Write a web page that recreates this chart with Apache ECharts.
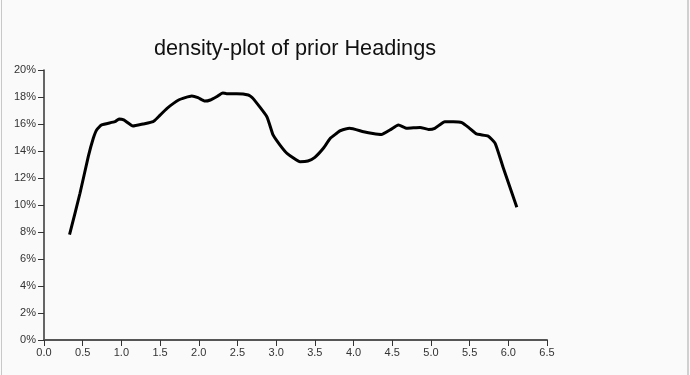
<!DOCTYPE html>
<html>
<head>
<meta charset="utf-8">
<script src="https://cdn.jsdelivr.net/npm/echarts@6/dist/echarts.min.js"></script>
<style>
html,body{margin:0;padding:0;background:#ffffff;}
#frame{position:absolute;left:0;top:0;width:690px;height:375px;background:#fafafa;}
#edgeL{position:absolute;left:1px;top:0;width:1px;height:375px;background:#c8c8c8;}
#edgeR{position:absolute;left:687px;top:0;width:2px;height:375px;background:#d0d0d0;}
#chart{position:absolute;left:0;top:0;width:690px;height:375px;}
</style>
</head>
<body>
<div id="frame"></div>
<div id="edgeL"></div>
<div id="edgeR"></div>
<div id="chart"></div>
<script>
const titleText = "density-plot of prior Headings";
const xTicks = [0,0.5,1,1.5,2,2.5,3,3.5,4,4.5,5,5.5,6,6.5];
const headings = [0.33,0.465,0.572,0.637,0.68,0.745,0.917,0.97,1.03,1.15,1.28,1.41,1.48,1.59,1.74,1.91,1.99,2.08,2.15,2.23,2.31,2.36,2.49,2.64,2.70,2.88,2.96,3.05,3.14,3.31,3.41,3.50,3.61,3.70,3.78,3.82,3.95,4.13,4.25,4.36,4.47,4.58,4.69,4.86,4.97,5.05,5.18,5.29,5.40,5.50,5.59,5.74,5.83,5.93,6.11];
const density = [7.8,10.87,13.58,14.94,15.56,15.93,16.17,16.37,16.3,15.85,16.0,16.17,16.54,17.16,17.78,18.07,17.95,17.7,17.78,18.02,18.3,18.25,18.25,18.15,17.9,16.54,15.19,14.44,13.83,13.21,13.26,13.53,14.2,14.94,15.3,15.48,15.68,15.43,15.3,15.23,15.56,15.93,15.68,15.75,15.6,15.68,16.17,16.17,16.1,15.68,15.26,15.1,14.57,12.84,9.83];

const chart = echarts.init(document.getElementById('chart'), null, {renderer:'canvas'});
const axisFont = {fontFamily:'Liberation Sans, Arial, sans-serif', fontSize:11, color:'#333'};
chart.setOption({
  backgroundColor:'transparent',
  animation:false,
  title:{
    text:titleText, left:154, top:38, padding:0,
    textStyle:{fontFamily:'Liberation Sans, Arial, sans-serif', fontSize:21.7, fontWeight:'normal', color:'#111'}
  },
  grid:{left:44, right:143, top:70, bottom:35, containLabel:false},
  xAxis:{
    type:'value', min:0, max:6.5, interval:0.5,
    axisLine:{show:true, onZero:false, lineStyle:{color:'#555', width:2}},
    axisTick:{show:true, length:6, lineStyle:{color:'#333'}},
    splitLine:{show:false},
    axisLabel:Object.assign({margin:7, formatter:v=>v.toFixed(1), showMinLabel:true, showMaxLabel:true}, axisFont)
  },
  yAxis:{
    type:'value', min:0, max:20, interval:2,
    axisLine:{show:true, lineStyle:{color:'#333', width:1.5}},
    axisTick:{show:true, length:6, lineStyle:{color:'#333'}},
    splitLine:{show:false},
    axisLabel:Object.assign({margin:8, formatter:v=>v+'%'}, axisFont)
  },
  series:[{
    type:'line',
    data:headings.map((x,i)=>[x,density[i]]),
    smooth:0.15,
    showSymbol:false,
    lineStyle:{color:'#000', width:3},
    itemStyle:{color:'#000'}
  }]
});
</script>
</body>
</html>
